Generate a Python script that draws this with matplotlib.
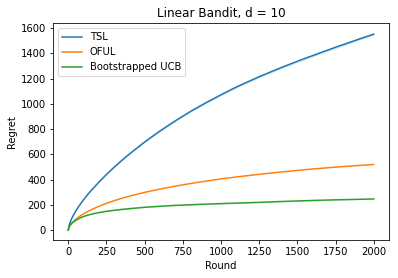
import matplotlib
matplotlib.use("Agg")
import matplotlib.pyplot as plt
import numpy as np

rounds = [0, 5, 10, 20, 30, 45, 60, 80, 100, 125, 150, 200, 250, 300, 350, 400,
          500, 600, 700, 800, 900, 1000, 1100, 1250, 1400, 1500, 1600, 1750, 1900, 2000]
tsl = [0, 35, 55, 85, 110, 143, 172, 208, 241, 279, 314, 380, 441, 498, 552, 603,
       698, 785, 865, 940, 1008, 1072, 1133, 1215, 1290, 1337, 1382, 1448, 1511, 1552]
oful = [0, 20, 32, 50, 64, 82, 97, 114, 129, 146, 161, 188, 212, 233, 252, 269,
        299, 325, 348, 369, 388, 405, 421, 442, 461, 473, 484, 499, 512, 520]
bucb = [0, 25, 38, 52, 62, 75, 85, 98, 108, 118, 126, 139, 149, 157, 164, 170,
        181, 189, 196, 201, 206, 210, 214, 220, 227, 231, 235, 240, 244, 247]
tsl_band = [0, 1, 2, 2, 3, 3, 3, 4, 4, 4, 4, 5, 5, 5, 6, 6,
            6, 7, 7, 7, 8, 8, 8, 9, 9, 9, 9, 10, 10, 10]
bucb_band = [0, 1, 1, 1, 1, 2, 2, 2, 2, 2, 2, 2, 3, 3, 3, 3,
             3, 3, 3, 3, 3, 3, 3, 3, 3, 3, 3, 3, 3, 3]

fig = plt.figure(figsize=(398 / 72, 278 / 72), dpi=72)
ax = fig.add_axes([53 / 398, 1 - 240 / 278, 336 / 398, 217 / 278])

x = np.array(rounds)
for vals, band, label, c in [
    (tsl, tsl_band, "TSL", "C0"),
    (oful, None, "OFUL", "C1"),
    (bucb, bucb_band, "Bootstrapped UCB", "C2"),
]:
    v = np.array(vals, dtype=float)
    ax.plot(x, v, color=c, lw=1.5, label=label)
    if band is not None:
        b = np.array(band, dtype=float)
        ax.fill_between(x, v - b, v + b, color=c, alpha=0.2, lw=0)

ax.set_title("Linear Bandit, d = 10")
ax.set_xlabel("Round")
ax.set_ylabel("Regret")
ax.set_xticks([0, 250, 500, 750, 1000, 1250, 1500, 1750, 2000])
ax.set_yticks([0, 200, 400, 600, 800, 1000, 1200, 1400, 1600])
ax.legend(loc="upper left")
fig.savefig("out.png", dpi=72)
